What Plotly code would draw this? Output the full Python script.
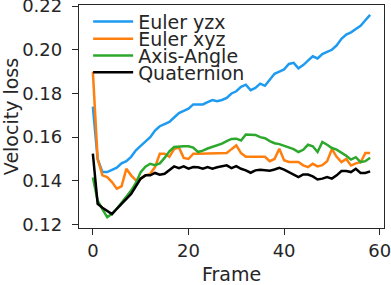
import plotly.graph_objects as go

frames = list(range(59))

euler_yzx = [0.174, 0.150, 0.144, 0.144, 0.145, 0.146, 0.148, 0.149, 0.151, 0.154,
             0.156, 0.158, 0.160, 0.163, 0.165, 0.166, 0.167, 0.169, 0.171, 0.172,
             0.173, 0.175, 0.175, 0.175, 0.176, 0.177, 0.1765, 0.177, 0.178, 0.180,
             0.181, 0.183, 0.184, 0.1815, 0.1825, 0.1845, 0.1835, 0.186, 0.189, 0.190,
             0.191, 0.1935, 0.194, 0.1915, 0.193, 0.195, 0.197, 0.196, 0.198, 0.199,
             0.200, 0.202, 0.205, 0.207, 0.208, 0.2095, 0.211, 0.2135, 0.216]

euler_xyz = [0.190, 0.150, 0.1425, 0.1417, 0.1394, 0.1364, 0.1375, 0.1455, 0.1425, 0.1402,
             0.141, 0.1425, 0.1432, 0.1463, 0.1524, 0.1524, 0.151, 0.1545, 0.1553, 0.1505,
             0.150, 0.1524, 0.1524, 0.1524, 0.1527, 0.1524, 0.1527, 0.1524, 0.1527, 0.1545,
             0.1562, 0.1527, 0.151, 0.151, 0.151, 0.151, 0.151, 0.149, 0.150, 0.1547,
             0.1494, 0.1486, 0.1486, 0.1486, 0.1471, 0.1463, 0.1478, 0.1466, 0.1472, 0.149,
             0.1545, 0.151, 0.1486, 0.150, 0.147, 0.148, 0.1485, 0.1527, 0.1527]

axis_angle = [0.1415, 0.131, 0.127, 0.1233, 0.1249, 0.1272, 0.130, 0.1325, 0.1355, 0.139,
              0.144, 0.1465, 0.1478, 0.1472, 0.148, 0.1505, 0.1535, 0.1555, 0.1558, 0.1558,
              0.1558, 0.1552, 0.1532, 0.1538, 0.1548, 0.1555, 0.156, 0.157, 0.1582, 0.1592,
              0.1593, 0.1585, 0.1612, 0.1612, 0.161, 0.160, 0.1595, 0.1582, 0.1572, 0.1568,
              0.156, 0.155, 0.1545, 0.1532, 0.1542, 0.1565, 0.1558, 0.1532, 0.1578, 0.1565,
              0.155, 0.1543, 0.153, 0.1515, 0.1497, 0.1508, 0.1486, 0.149, 0.1506]

quaternion = [0.1525, 0.1295, 0.1277, 0.1262, 0.1248, 0.1272, 0.1295, 0.1318, 0.134, 0.1375,
              0.141, 0.1425, 0.1425, 0.1436, 0.1428, 0.1432, 0.1448, 0.1466, 0.1458, 0.1466,
              0.1456, 0.1463, 0.1462, 0.1456, 0.1463, 0.1456, 0.1462, 0.1466, 0.1471, 0.1458,
              0.1467, 0.1455, 0.1448, 0.1437, 0.1448, 0.1451, 0.1448, 0.1446, 0.1452, 0.146,
              0.1451, 0.1440, 0.1429, 0.1417, 0.1429, 0.1429, 0.142, 0.1406, 0.141, 0.1417,
              0.141, 0.1425, 0.1445, 0.1445, 0.1440, 0.1455, 0.1436, 0.1436, 0.1443]

series_names = ["Euler yzx", "Euler xyz", "Axis-Angle", "Quaternion"]
series_values = [euler_yzx, euler_xyz, axis_angle, quaternion]
colors = ["#1E9BF0", "#FF7F0E", "#2CA82C", "#000000"]

y_ticks = [0.12, 0.14, 0.16, 0.18, 0.20, 0.22]
x_ticks = [0, 20, 40, 60]

legend_ids = ["legend", "legend2", "legend3", "legend4"]
legend_rows = [0.925, 0.8475, 0.7726, 0.6982]

fig = go.Figure()
for name, vals, col, lid in zip(series_names, series_values, colors, legend_ids):
    fig.add_trace(go.Scatter(
        x=frames, y=vals, mode="lines", name=name, legend=lid,
        line=dict(color=col, width=2.5),
    ))

axis_common = dict(
    showline=True, linecolor="#262626", linewidth=1.3, mirror=True,
    ticks="outside", ticklen=6, tickwidth=1.2, tickcolor="#262626",
    showgrid=False, zeroline=False, ticklabeloverflow="allow",
    tickfont=dict(family="DejaVu Sans", size=18, color="#262626"),
)

legend_layouts = {}
for lid, row in zip(legend_ids, legend_rows):
    legend_layouts[lid] = dict(
        x=0.03, y=row, xanchor="left", yanchor="middle",
        bgcolor="rgba(0,0,0,0)", borderwidth=0,
        font=dict(family="DejaVu Sans", size=19, color="#262626"),
        itemwidth=40,
    )

fig.update_layout(
    width=391, height=285,
    margin=dict(l=79, r=7, t=5, b=57, autoexpand=False),
    paper_bgcolor="white", plot_bgcolor="white",
    showlegend=True,
    xaxis=dict(
        range=[-2.9, 60.9], tickvals=x_ticks, ticktext=[str(v) for v in x_ticks],
        title=dict(text="Frame", font=dict(family="DejaVu Sans", size=19, color="#262626"), standoff=15),
        **axis_common,
    ),
    yaxis=dict(
        range=[0.1184, 0.2205], tickvals=y_ticks, ticktext=[f"{v:.2f}" for v in y_ticks],
        title=dict(text="Velocity loss", font=dict(family="DejaVu Sans", size=19, color="#262626"), standoff=8),
        ticklabelstandoff=6,
        **axis_common,
    ),
    **legend_layouts,
)

fig.write_html(
    "out.html",
    config={"displayModeBar": False},
    post_script="document.body.style.margin='0';document.body.style.overflow='hidden';",
)
